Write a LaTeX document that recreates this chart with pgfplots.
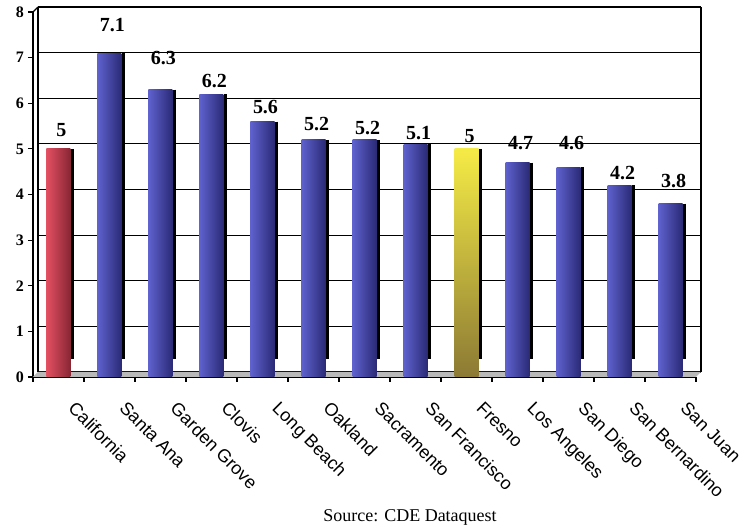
\documentclass[border=0pt]{standalone}
\usepackage{fontspec}
\setmainfont{Liberation Serif}
\setsansfont{Liberation Sans}
\usepackage{pgfplots}
\pgfplotsset{compat=1.18}
\usepackage{pgfplotstable}

\definecolor{blueL}{RGB}{95,97,205}
\definecolor{blueM}{RGB}{76,78,182}
\definecolor{blueD}{RGB}{42,42,118}
\definecolor{redL}{RGB}{225,80,98}
\definecolor{redM}{RGB}{205,68,85}
\definecolor{redD}{RGB}{135,38,52}
\definecolor{yelT}{RGB}{245,235,70}
\definecolor{yelB}{RGB}{140,122,52}

\pgfplotstableread{
x y gap
0 5.0 6
}\calif
\pgfplotstableread{
x y gap
1 7.1 10.5
2 6.3 12
3 6.2 3
4 5.6 3.5
5 5.2 4.5
6 5.2 2.5
7 5.1 2
9 4.7 6
10 4.6 8.5
11 4.2 2.5
12 3.8 7.5
}\blue
\pgfplotstableread{
x y gap
8 5.0 3
}\fresno
\pgfplotstableread{
x y
0 5.0
1 7.1
2 6.3
3 6.2
4 5.6
5 5.2
6 5.2
7 5.1
8 5.0
9 4.7
10 4.6
11 4.2
12 3.8
}\alldata

\pgfplotsset{
  barlab/.style={
    nodes near coords,
    visualization depends on={\thisrow{gap}\as\gap},
    every node near coord/.append style={anchor=south, inner sep=0pt, yshift=\gap pt, xshift=1.5pt, font=\bfseries\fontsize{10}{12}\selectfont, black}
  }
}

\begin{document}
\begin{tikzpicture}
\useasboundingbox (-16.5pt,-76pt) rectangle (356pt,188.5pt);
\begin{axis}[
  at={(0,0)}, anchor=south west,
  scale only axis, width=331.5pt, height=182.5pt,
  xmin=-0.5, xmax=12.5, ymin=0, ymax=8,
  axis x line*=bottom, axis y line*=left,
  axis line style={black, line width=0.6pt},
  clip=false,
  ytick={0,...,8},
  xtick={0,...,12},
  xticklabels={California, Santa Ana, Garden Grove, Clovis, Long Beach, Oakland, Sacramento, San Francisco, Fresno, Los Angeles, San Diego, San Bernardino, San Juan},
  minor xtick={-0.5,0.5,...,12.5},
  tick align=outside,
  major tick length=2.5pt, minor tick length=2.5pt,
  major x tick style={draw=none},
  minor x tick style={black, line width=0.6pt},
  major y tick style={black, line width=0.6pt},
  ymajorgrids,
  major grid style={black, line width=0.6pt, xshift=2.5pt, yshift=2.5pt},
  /pgf/number format/assume math mode=true,
  yticklabel style={font=\bfseries\fontsize{8}{9}\selectfont, xshift=1.5pt},
  xticklabel style={font=\sffamily\fontsize{9}{10}\selectfont, xshift=9pt, yshift=-9pt, rotate=-45, anchor=north west, inner sep=0pt},
]
% floor and back wall
\fill[gray!55] (rel axis cs:0,0) -- (rel axis cs:1,0) -- ([shift={(2.5pt,2.5pt)}]rel axis cs:1,0) -- ([shift={(2.5pt,2.5pt)}]rel axis cs:0,0) -- cycle;
\draw[black, line width=0.6pt] ([shift={(2.5pt,2.5pt)}]rel axis cs:0,0) -- ([shift={(2.5pt,2.5pt)}]rel axis cs:0,1);
\draw[black, line width=0.6pt] ([shift={(2.5pt,2.5pt)}]rel axis cs:1,0) -- ([shift={(2.5pt,2.5pt)}]rel axis cs:1,1);
\draw[black, line width=0.6pt] (rel axis cs:0,1) -- ([shift={(2.5pt,2.5pt)}]rel axis cs:0,1);

% right-side black shadows
\addplot[draw=none, mark=none, forget plot,
  error bars/.cd, y dir=minus, y explicit, error mark=none,
  error bar style={draw=black, line width=1.5pt, solid}]
  table[x expr=\thisrow{x}+0.265, y=y, y error expr=\thisrow{y}-0.4]{\alldata};

\addplot[ybar, bar width=12pt, bar shift=0pt, draw=none, left color=redL, middle color=redM, right color=redD, barlab]
  table[x=x, y=y]{\calif};
\pgfplotsinvokeforeach{1,2,3,4,5,6,7,9,10,11,12}{
\addplot[ybar, bar width=12pt, bar shift=0pt, draw=none, left color=blueL, middle color=blueM, right color=blueD, barlab,
  restrict x to domain=#1:#1]
  table[x=x, y=y]{\blue};
}
\addplot[ybar, bar width=12pt, bar shift=0pt, draw=none, top color=yelT, bottom color=yelB, barlab]
  table[x=x, y=y]{\fresno};
\end{axis}
\node[font=\fontsize{9}{10}\selectfont] at (188.5pt,-70pt) {Source: CDE Dataquest};
\end{tikzpicture}
\end{document}
